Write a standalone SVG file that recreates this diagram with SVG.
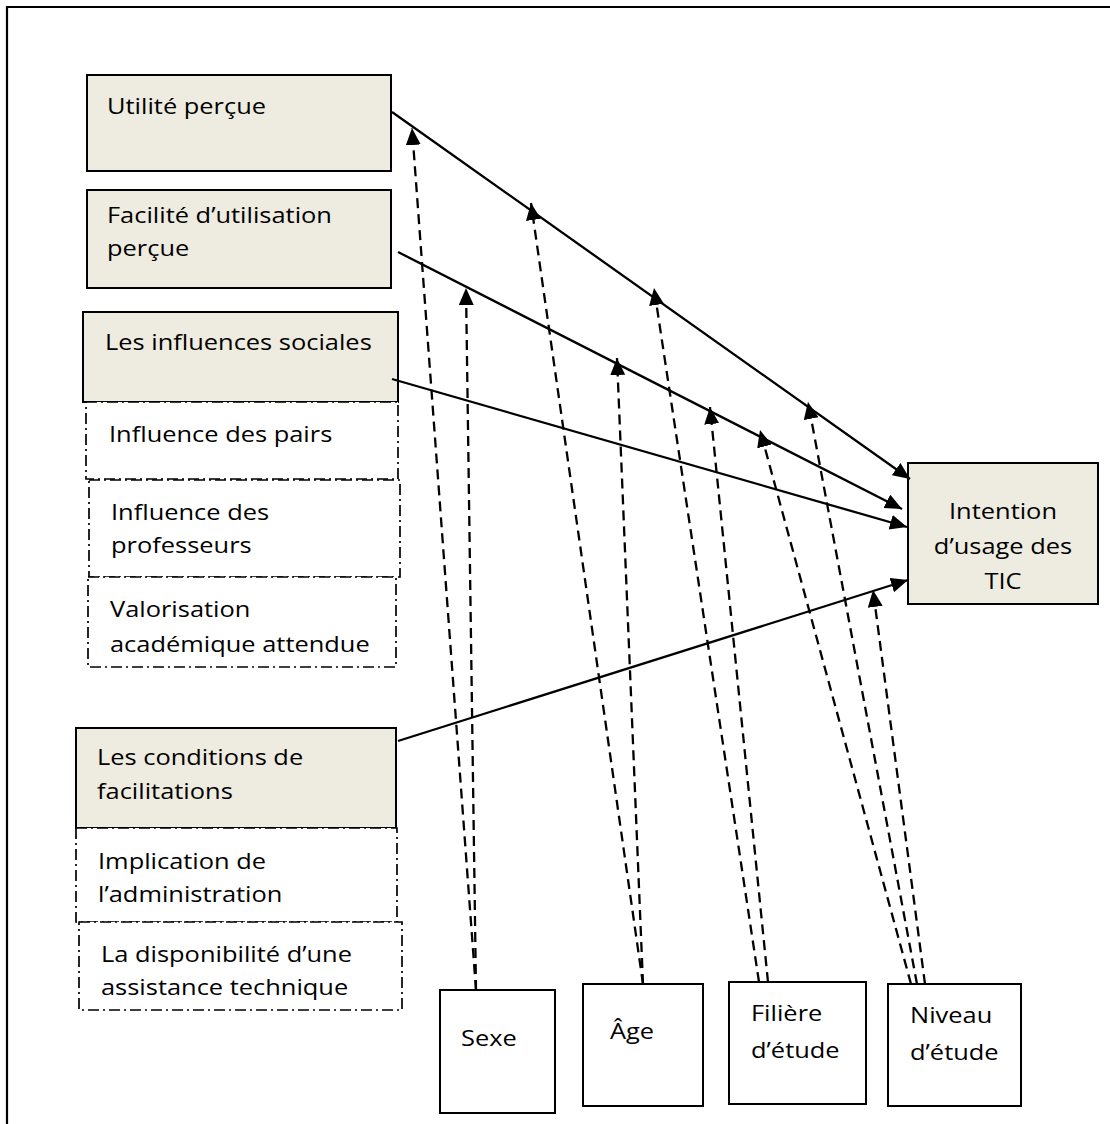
<svg xmlns="http://www.w3.org/2000/svg" width="1110" height="1124" viewBox="0 0 1110 1124">
<style>
.t{font-family:"Open Sans","Liberation Sans",sans-serif;font-size:22.5px;fill:#000}
.main{fill:#EEECE1;stroke:#000;stroke-width:2}
.sub{fill:#fff;stroke:#000;stroke-width:1.7;stroke-dasharray:11 4 2 4}
.mod{fill:#fff;stroke:#000;stroke-width:2}
.sol{fill:none;stroke:#000;stroke-width:2.3;marker-end:url(#ah)}
.dsh{fill:none;stroke:#000;stroke-width:2.3;stroke-dasharray:10 6;marker-end:url(#ah)}
</style>
<defs>
<marker id="ah" markerUnits="userSpaceOnUse" markerWidth="19" markerHeight="16" refX="17" refY="7.5" orient="auto">
<path d="M0,0 L17,7.5 L0,15 z" fill="#000"/>
</marker>
</defs>
<rect width="1110" height="1124" fill="#fff"/>
<path d="M7,1124 V7 H1110" fill="none" stroke="#000" stroke-width="2.2"/>

<g id="utilite">
<rect class="main" x="87" y="75" width="304" height="96"/>
<text class="t" transform="translate(107,114) scale(1.13,1)">Utilité perçue</text>
</g>
<g id="facilite">
<rect class="main" x="87" y="190" width="304" height="98"/>
<text class="t" transform="translate(107,223) scale(1.13,1)"><tspan x="0" y="0">Facilité d’utilisation</tspan><tspan x="0" y="33">perçue</tspan></text>
</g>
<g id="influences">
<rect class="main" x="83" y="312" width="315" height="90"/>
<text class="t" transform="translate(105,350) scale(1.13,1)">Les influences sociales</text>
</g>
<g id="pairs">
<rect class="sub" x="86" y="402" width="312" height="77"/>
<text class="t" transform="translate(109,442) scale(1.13,1)">Influence des pairs</text>
</g>
<g id="professeurs">
<rect class="sub" x="89" y="480" width="311" height="97"/>
<text class="t" transform="translate(111,520) scale(1.13,1)"><tspan x="0" y="0">Influence des</tspan><tspan x="0" y="33">professeurs</tspan></text>
</g>
<g id="valorisation">
<rect class="sub" x="88" y="577" width="308" height="90"/>
<text class="t" transform="translate(110,617) scale(1.13,1)"><tspan x="0" y="0">Valorisation</tspan><tspan x="0" y="35">académique attendue</tspan></text>
</g>
<g id="conditions">
<rect class="main" x="76" y="728" width="320" height="100"/>
<text class="t" transform="translate(97,765) scale(1.13,1)"><tspan x="0" y="0">Les conditions de</tspan><tspan x="0" y="34">facilitations</tspan></text>
</g>
<g id="implication">
<rect class="sub" x="76" y="828" width="321" height="94"/>
<text class="t" transform="translate(98,869) scale(1.13,1)"><tspan x="0" y="0">Implication de</tspan><tspan x="0" y="33">l’administration</tspan></text>
</g>
<g id="assistance">
<rect class="sub" x="79" y="922" width="323" height="88"/>
<text class="t" transform="translate(101,962) scale(1.13,1)"><tspan x="0" y="0">La disponibilité d’une</tspan><tspan x="0" y="33">assistance technique</tspan></text>
</g>
<g id="intention">
<rect class="main" x="908" y="463" width="190" height="141"/>
<text class="t" text-anchor="middle" transform="translate(1003,519) scale(1.13,1)"><tspan x="0" y="0">Intention</tspan><tspan x="0" y="35">d’usage des</tspan><tspan x="0" y="70">TIC</tspan></text>
</g>
<g id="sexe">
<rect class="mod" x="440" y="990" width="115" height="123"/>
<text class="t" transform="translate(461,1046) scale(1.13,1)">Sexe</text>
</g>
<g id="age">
<rect class="mod" x="583" y="984" width="120" height="122"/>
<text class="t" transform="translate(610,1039) scale(1.13,1)">Âge</text>
</g>
<g id="filiere">
<rect class="mod" x="729" y="982" width="137" height="122"/>
<text class="t" transform="translate(751,1021) scale(1.13,1)"><tspan x="0" y="0">Filière</tspan><tspan x="0" y="37">d’étude</tspan></text>
</g>
<g id="niveau">
<rect class="mod" x="888" y="984" width="133" height="122"/>
<text class="t" transform="translate(910,1023) scale(1.13,1)"><tspan x="0" y="0">Niveau</tspan><tspan x="0" y="37">d’étude</tspan></text>
</g>

<g id="connectors">
<line class="sol" x1="392" y1="112" x2="910" y2="479"/>
<line class="sol" x1="398" y1="252" x2="902" y2="509"/>
<line class="sol" x1="392" y1="379" x2="907" y2="527"/>
<line class="sol" x1="398" y1="741" x2="908" y2="580"/>
<line class="dsh" x1="476" y1="990" x2="412" y2="128"/>
<line class="dsh" x1="476" y1="990" x2="466" y2="288"/>
<line class="dsh" x1="643" y1="984" x2="531" y2="203"/>
<line class="dsh" x1="643" y1="984" x2="617" y2="358"/>
<line class="dsh" x1="759" y1="982" x2="654" y2="288"/>
<line class="dsh" x1="768" y1="982" x2="710" y2="407"/>
<line class="dsh" x1="911" y1="984" x2="760" y2="430"/>
<line class="dsh" x1="917" y1="984" x2="808" y2="402"/>
<line class="dsh" x1="925" y1="984" x2="873" y2="590"/>
</g>
</svg>
